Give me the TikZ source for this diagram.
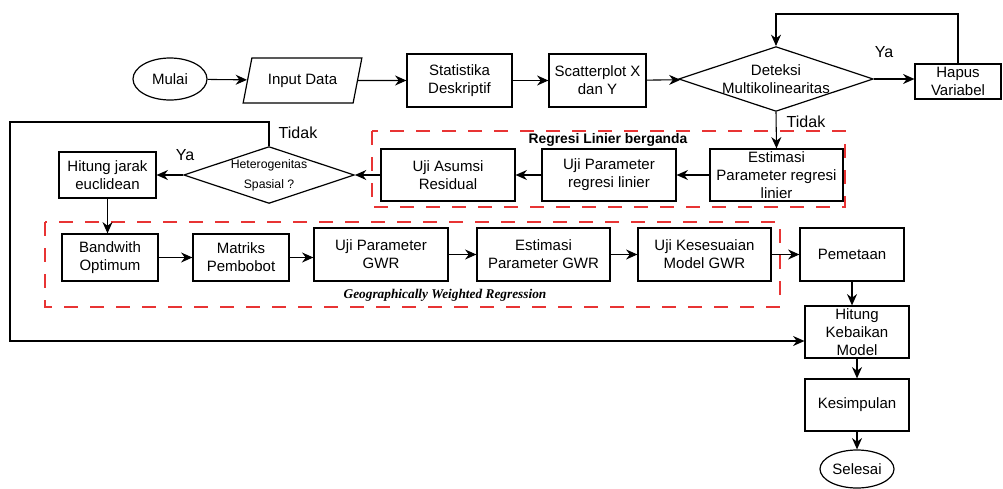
\documentclass[tikz,border=0pt]{standalone}
\usepackage{fontspec}
\setmainfont{Liberation Sans}
\newfontfamily\gwrfont{Liberation Serif}
\usetikzlibrary{arrows.meta,shapes.geometric}
\def\pxu{0.75pt}
\tikzset{
  base/.style={draw=black, line width=0.9pt, inner sep=0pt, align=center,
    font=\fontsize{11.25}{13.5}\selectfont},
  box/.style n args={2}{base, rectangle, minimum width=#1*\pxu, minimum height=#2*\pxu},
  term/.style n args={2}{base, ellipse, minimum width=#1*\pxu, minimum height=#2*\pxu},
  dec/.style n args={2}{base, diamond, minimum width=#1*\pxu, minimum height=#2*\pxu, aspect=3},
  io/.style n args={2}{base, trapezium, trapezium left angle=66, trapezium right angle=114,
    trapezium stretches=true, minimum width=#1*\pxu, minimum height=#2*\pxu},
  arr/.style={draw=black, line width=0.8pt, -{Stealth[length=8.5pt,width=7.5pt]}},
  lbl/.style={font=\fontsize{12}{14}\selectfont, inner sep=0pt},
  grp/.style={draw={rgb,255:red,232;green,52;blue,52}, line width=1pt, dash pattern=on 10.5pt off 9pt},
}
\begin{document}
\begin{tikzpicture}[x=0.75pt, y=-0.75pt]
\useasboundingbox (0,0) rectangle (1003,489);

% group frames
\draw[grp] (372,131) rectangle (845,207);
\draw[grp] (45,222) rectangle (780,307);
\node[inner sep=0pt, font=\fontsize{10.4}{12}\selectfont\bfseries] (lblreg) at (608,140) {Regresi Linier berganda};
\node[inner sep=0pt, font=\fontsize{10}{12}\gwrfont\bfseries\itshape] (lblgwr) at (445,295) {Geographically Weighted Regression};

% row 1
\node[term={74}{42}] (mulai) at (170,79) {Mulai};
\node[io={119}{45}] (input) at (302.5,80.5) {Input Data};
\node[box={105}{53}] (stat) at (459.5,80.5) {Statistika\\Deskriptif};
\node[box={97}{53}] (scatter) at (597.5,80.5) {Scatterplot X\\dan Y};
\node[dec={194}{64}] (deteksi) at (776,79) {Deteksi\\Multikolinearitas};
\node[box={86}{35}] (hapus) at (958,81.5) {Hapus\\Variabel};

% row 2
\node[box={97}{46}] (hitungj) at (107.5,175) {Hitung jarak\\euclidean};
\node[dec={166}{52}, font=\fontsize{9.2}{15}\selectfont] (hetero) at (269,175) {Heterogenitas\\Spasial ?};
\node[box={134}{52}] (asumsi) at (448,175) {Uji Asumsi\\Residual};
\node[box={134}{52}] (ujiparam) at (609,175) {Uji Parameter\\regresi linier};
\node[box={133}{52}] (estim) at (776.5,175) {Estimasi\\Parameter regresi\\linier};

% row 3
\node[box={96}{47}] (bandwith) at (110,257.5) {Bandwith\\Optimum};
\node[box={96}{47}] (matriks) at (241,257.5) {Matriks\\Pembobot};
\node[box={134}{53}] (ujigwr) at (381,254.5) {Uji Parameter\\GWR};
\node[box={133}{53}] (estgwr) at (543.5,254.5) {Estimasi\\Parameter GWR};
\node[box={133}{53}] (ujikes) at (704.5,254.5) {Uji Kesesuaian\\Model GWR};
\node[box={104}{53}] (pemetaan) at (852,254.5) {Pemetaan};

% column
\node[box={104}{52}] (kebaikan) at (857,332) {Hitung\\Kebaikan\\Model};
\node[box={104}{52}] (kesimpulan) at (857,405) {Kesimpulan};
\node[term={74}{38}] (selesai) at (857,469) {Selesai};

% helper coordinates
\coordinate (topy) at (0,14);
\coordinate (looptl) at (10,122);

% connectors
\draw[arr] (mulai) -- (input);
\draw[arr] (input) -- (stat);
\draw[arr] (stat) -- (scatter);
\draw[arr] (scatter) -- (deteksi);
\draw[arr] (deteksi) -- (hapus.west |- deteksi.east);
\draw[arr] (hapus.north) |- (deteksi.north |- topy) -- (deteksi.north);
\draw[arr] (deteksi.south) -- (estim.north);
\draw[arr] (estim) -- (ujiparam);
\draw[arr] (ujiparam) -- (asumsi);
\draw[arr] (asumsi) -- (hetero);
\draw[arr] (hetero) -- (hitungj);
\draw[arr] (hetero.north) |- (looptl) |- ([yshift=-6.75pt]kebaikan.west);
\draw[arr] (hitungj.south) -- (hitungj.south |- bandwith.north);
\draw[arr] (bandwith) -- (matriks);
\draw[arr] (matriks.east) -- (matriks.east -| ujigwr.west);
\draw[arr] (ujigwr) -- (estgwr);
\draw[arr] (estgwr) -- (ujikes);
\draw[arr] (ujikes) -- (pemetaan);
\draw[arr] (pemetaan.south) -- (pemetaan.south |- kebaikan.north);
\draw[arr] (kebaikan.south -| kesimpulan.north) -- (kesimpulan.north);
\draw[arr] (kesimpulan) -- (selesai);

% labels
\node[lbl] (ya1) at (884,52) {Ya};
\node[lbl] (tidak1) at (806,122) {Tidak};
\node[lbl] (tidak2) at (298,133) {Tidak};
\node[lbl] (ya2) at (185,155) {Ya};
\end{tikzpicture}
\end{document}
